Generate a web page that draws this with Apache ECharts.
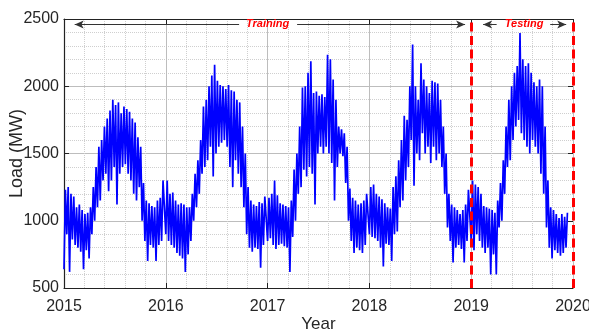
<!DOCTYPE html>
<html>
<head>
<meta charset="utf-8">
<script src="https://cdn.jsdelivr.net/npm/echarts@6/dist/echarts.min.js"></script>
<style>
  html, body { margin: 0; padding: 0; background: #fff; }
  #main { width: 589px; height: 334px; }
</style>
</head>
<body>
<div id="main"></div>
<script>
// load, in 10-day bins: low and high of the band in each bin
const years = [2015, 2016, 2017, 2018, 2019];

const hi2015 = [1230, 1250, 1200, 1180, 1100, 1120, 1080, 1050, 1060, 1100, 1250, 1400, 1550, 1600, 1700, 1760, 1820, 1900,
                1860, 1880, 1800, 1850, 1830, 1810, 1760, 1730, 1620, 1550, 1280, 1150, 1130, 1110, 1100, 1150, 1170, 1300];
const lo2015 = [640, 900, 620, 860, 820, 800, 770, 640, 780, 720, 900, 1000, 1100, 1150, 1300, 1350, 1220, 1300,
                1400, 1120, 1350, 1400, 1420, 1350, 1300, 1200, 1150, 1250, 1000, 850, 700, 820, 800, 700, 820, 850];

const hi2016 = [1300, 1200, 1210, 1150, 1120, 1130, 1120, 1100, 1100, 1200, 1350, 1450, 1600, 1850, 1900, 2000, 2080, 2160,
                2040, 2010, 2000, 1980, 2010, 1970, 1960, 1900, 1880, 1700, 1500, 1250, 1150, 1120, 1110, 1140, 1130, 1180];
const lo2016 = [900, 850, 820, 800, 760, 740, 720, 620, 750, 850, 1000, 1100, 1200, 1350, 1400, 1450, 1550, 1330,
                1500, 1550, 1580, 1600, 1550, 1400, 1250, 1450, 1350, 1250, 1100, 900, 800, 770, 800, 790, 650, 820];

const hi2017 = [1170, 1200, 1300, 1190, 1130, 1120, 1110, 1100, 1150, 1380, 1500, 1700, 1990, 2000, 2100, 2185, 1950, 1960,
                1930, 1940, 1920, 2235, 2200, 2050, 1900, 1700, 1680, 1650, 1550, 1240, 1170, 1150, 1120, 1130, 1150, 1200];
const lo2017 = [850, 870, 820, 790, 820, 830, 810, 800, 620, 880, 1000, 1200, 1250, 1380, 1330, 1400, 1350, 1120,
                1500, 1550, 1500, 1550, 1500, 1430, 1150, 1400, 1500, 1480, 1280, 1000, 850, 760, 800, 780, 760, 820];

const hi2018 = [1250, 1270, 1200, 1180, 1160, 1130, 1100, 1090, 1250, 1330, 1450, 1600, 1780, 1750, 2000, 2310, 2000, 1900,
                2170, 2050, 2000, 1950, 2040, 2030, 2020, 1900, 1700, 1500, 1200, 1120, 1100, 1080, 1050, 1080, 1120, 1230];
const lo2018 = [900, 880, 870, 850, 800, 660, 830, 820, 700, 900, 920, 1100, 1150, 1300, 1400, 1600, 1260, 1500,
                1450, 1650, 1500, 1550, 1430, 1550, 1450, 1500, 1400, 1200, 950, 850, 690, 800, 820, 790, 690, 850];

const hi2019 = [1300, 1270, 1250, 1200, 1110, 1100, 1090, 1080, 1060, 1150, 1280, 1450, 1700, 1900, 2000, 2100, 2150, 2395,
                2200, 2150, 2170, 2100, 2030, 2000, 2050, 2000, 1700, 1300, 1100, 1080, 1050, 1020, 1050, 1030, 1060];
const lo2019 = [850, 780, 900, 850, 800, 760, 800, 600, 750, 600, 950, 1000, 1200, 1400, 1450, 1600, 1700, 1750,
                1650, 1600, 1550, 1500, 1600, 1550, 1500, 1350, 1200, 950, 800, 720, 780, 760, 740, 760, 800];

const hiByYear = [hi2015, hi2016, hi2017, hi2018, hi2019];
const loByYear = [lo2015, lo2016, lo2017, lo2018, lo2019];

const xTicks = [2015, 2016, 2017, 2018, 2019, 2020];
const splitYears = [2019, 2020];

let loadData = [];
years.forEach((yr, k) => {
    const hi = hiByYear[k], lo = loByYear[k];
    for (let i = 0; i < hi.length; i++) {
        loadData.push([yr + (10 * i) / 365, lo[i]]);
        loadData.push([yr + (10 * i + 5) / 365, hi[i]]);
    }
});

const labelFont = { color: '#262626', fontFamily: 'Liberation Sans', fontSize: 16 };
const arrowStyle = { color: '#333', width: 1, type: 'solid' };

var myChart = echarts.init(document.getElementById('main'), null, { renderer: 'canvas' });
let option = {
    animation: false,
    backgroundColor: '#fff',
    grid: { left: 64, right: 16, top: 19, bottom: 46, containLabel: false, outerBoundsMode: 'none' },
    xAxis: [{
        type: 'value',
        min: xTicks[0],
        max: xTicks[xTicks.length - 1],
        interval: 1,
        name: 'Year',
        nameLocation: 'middle',
        nameGap: 28,
        nameMoveOverlap: false,
        nameTextStyle: { color: '#262626', fontFamily: 'Liberation Sans', fontSize: 17 },
        axisLine: { lineStyle: { color: '#222', width: 1.2 } },
        axisTick: { inside: true, length: 5, lineStyle: { color: '#222' } },
        axisLabel: Object.assign({ margin: 11, formatter: v => String(v) }, labelFont),
        splitLine: { show: true, lineStyle: { color: '#bdbdbd', width: 1 } },
        minorTick: { show: false, splitNumber: 5 },
        minorSplitLine: { show: true, lineStyle: { color: '#cfcfcf', type: 'dotted' } }
    }, {
        type: 'value',
        position: 'top',
        min: xTicks[0],
        max: xTicks[xTicks.length - 1],
        interval: 1,
        axisLine: { lineStyle: { color: '#222', width: 1.2 } },
        axisTick: { inside: true, length: 5, lineStyle: { color: '#222' } },
        axisLabel: { show: false },
        splitLine: { show: false }
    }],
    yAxis: [{
        type: 'value',
        min: 500,
        max: 2500,
        interval: 500,
        name: 'Load (MW)',
        nameLocation: 'middle',
        nameGap: 38,
        nameMoveOverlap: false,
        nameTextStyle: { color: '#262626', fontFamily: 'Liberation Sans', fontSize: 18 },
        axisLine: { show: true, lineStyle: { color: '#222', width: 1.2 } },
        axisTick: { show: true, inside: true, length: 5, lineStyle: { color: '#222' } },
        axisLabel: Object.assign({ margin: 5, formatter: v => String(v) }, labelFont),
        splitLine: { show: true, lineStyle: { color: '#bdbdbd', width: 1 } },
        minorTick: { show: false, splitNumber: 5 },
        minorSplitLine: { show: true, lineStyle: { color: '#cfcfcf', type: 'dotted' } }
    }, {
        type: 'value',
        position: 'right',
        min: 500,
        max: 2500,
        interval: 500,
        axisLine: { show: false },
        axisTick: { show: true, inside: true, length: 5, lineStyle: { color: '#222' } },
        axisLabel: { show: false },
        splitLine: { show: false }
    }],
    series: [{
        name: 'Load',
        type: 'line',
        data: loadData,
        showSymbol: false,
        symbol: 'none',
        sampling: null,
        lineStyle: { color: '#0000ff', width: 1.7 },
        z: 2,
        markLine: {
            silent: true,
            animation: false,
            symbol: 'none',
            label: { show: false },
            data: [
                // training / testing arrows
                [{ coord: [2015.105, 2460], symbol: 'arrow', symbolSize: [6, 9], lineStyle: arrowStyle },
                 { coord: [2016.72, 2460], symbol: 'none' }],
                [{ coord: [2017.29, 2460], symbol: 'none', lineStyle: arrowStyle },
                 { coord: [2018.94, 2460], symbol: 'arrow', symbolSize: [6, 9] }],
                [{ coord: [2019.117, 2460], symbol: 'arrow', symbolSize: [6, 9], lineStyle: arrowStyle },
                 { coord: [2019.25, 2460], symbol: 'none' }],
                [{ coord: [2019.776, 2460], symbol: 'none', lineStyle: arrowStyle },
                 { coord: [2019.933, 2460], symbol: 'arrow', symbolSize: [6, 9] }]
            ].concat(splitYears.map(yr => ({
                xAxis: yr,
                lineStyle: { color: '#ff0000', width: 3, type: [9, 4.5] }
            })))
        },
        markPoint: {
            silent: true,
            animation: false,
            symbol: 'rect',
            symbolSize: 1,
            itemStyle: { color: 'rgba(0,0,0,0)' },
            label: {
                show: true,
                position: 'inside',
                formatter: '{b}',
                color: '#ff0000',
                fontFamily: 'Liberation Sans',
                fontStyle: 'italic',
                fontWeight: 'bold',
                fontSize: 11
            },
            data: [
                { name: 'Training', coord: [2017.0, 2460] },
                { name: 'Testing', coord: [2019.52, 2460] }
            ]
        }
    }]
};
option && myChart.setOption(option);
</script>
</body>
</html>
